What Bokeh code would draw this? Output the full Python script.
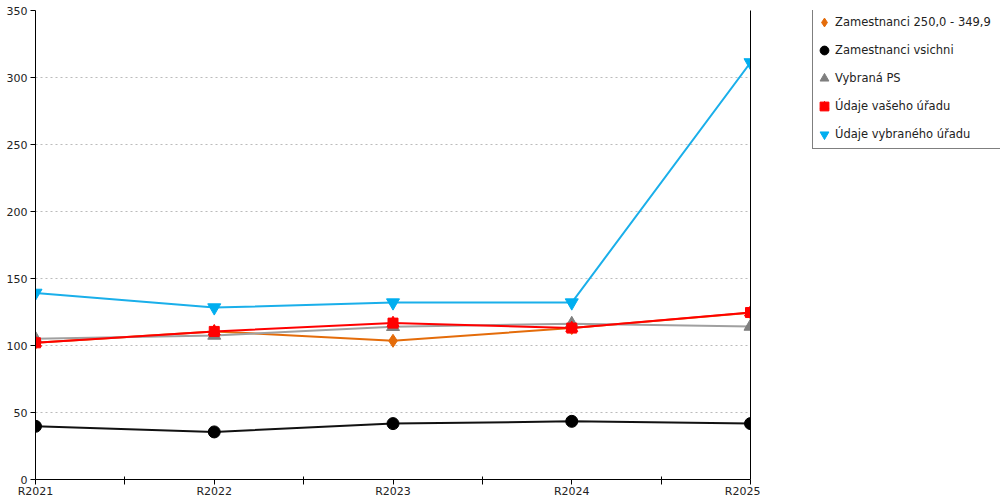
from bokeh.plotting import figure
from bokeh.layouts import row
from bokeh.models import (Range1d, FixedTicker, Legend, LegendItem, ColumnDataSource, LinearAxis)
from bokeh.embed import file_html
from bokeh.resources import INLINE

categories = ["R2021", "R2022", "R2023", "R2024", "R2025"]
y_ticks = [0, 50, 100, 150, 200, 250, 300, 350]

zam_250 = [102, 110.5, 103.5, 113, 124.5]
zam_vsichni = [39.7, 35.5, 41.7, 43.4, 41.7]
vybrana_ps = [105, 107.5, 114, 116.2, 114.2]
vas_urad = [102, 110.5, 116.7, 113, 124.6]
vybrany_urad = [139.2, 128.3, 132, 132, 311.2]

names = ["Zamestnanci 250,0 - 349,9", "Zamestnanci vsichni", "Vybraná PS",
         "Údaje vašeho úřadu", "Údaje vybraného úřadu"]

FONT = "DejaVu Sans"
xs = list(range(len(categories)))

p = figure(width=760, height=500, output_backend="svg", toolbar_location=None,
           x_range=Range1d(0, len(categories) - 1), y_range=Range1d(0, 350),
           min_border_left=35, min_border_right=10, min_border_top=10, min_border_bottom=19)
p.outline_line_color = None
p.background_fill_color = "white"

# axes
p.xaxis.ticker = FixedTicker(ticks=xs, minor_ticks=[i + 0.5 for i in xs[:-1]])
p.xaxis.major_label_overrides = {i: c for i, c in enumerate(categories)}
p.xaxis.major_tick_in = 0
p.xaxis.major_tick_out = 5
p.xaxis.minor_tick_in = 3
p.xaxis.minor_tick_out = 5
p.xaxis.major_label_standoff = 0
p.yaxis.ticker = FixedTicker(ticks=y_ticks)
p.yaxis.major_tick_in = 0
p.yaxis.major_tick_out = 5
p.yaxis.major_label_standoff = 3
for ax in (p.xaxis[0], p.yaxis[0]):
    ax.axis_line_color = "black"
    ax.major_tick_line_color = "black"
    ax.minor_tick_line_color = "black" if ax is p.xaxis[0] else None
    ax.major_label_text_font = FONT
    ax.major_label_text_font_size = "11px"
    ax.major_label_text_color = "#222222"

p.xgrid.grid_line_color = None
p.ygrid.grid_line_color = "#BBBBBB"
p.ygrid.grid_line_dash = "2 3"

# right border line
raxis = LinearAxis(ticker=FixedTicker(ticks=[]), axis_line_color="black",
                   major_tick_line_color=None, minor_tick_line_color=None,
                   major_tick_in=0, major_tick_out=0, major_label_standoff=0)
p.add_layout(raxis, "right")

src = ColumnDataSource(dict(x=xs, o=zam_250, k=zam_vsichni, g=vybrana_ps,
                            r=vas_urad, b=vybrany_urad))

series = [
    ("o", "#E46C0A", [("diamond", 13, "#E46C0A")]),
    ("k", "#111111", [("circle", 12, "black")]),
    ("g", "#A0A0A0", [("triangle", 13, "#7F7F7F")]),
    ("r", "#FF0000", [("square", 10, "#FF0000"), ("triangle", 12, "#FF0000")]),
    ("b", "#1AAFEA", [("inverted_triangle", 13, "#00AEEF")]),
]

# legend figure (markers drawn out of view; only the legend is visible)
pl = figure(width=240, height=500, output_backend="svg", toolbar_location=None,
            x_range=Range1d(100, 101), y_range=Range1d(0, 350),
            min_border_left=0, min_border_right=0, min_border_top=0, min_border_bottom=0)
pl.axis.visible = False
pl.grid.visible = False
pl.outline_line_color = None

items = []
for (col, lcolor, markers), name in zip(series, names):
    p.line("x", col, source=src, line_color=lcolor, line_width=2)
    rs = []
    for mk, sz, mc in markers:
        p.scatter("x", col, source=src, marker=mk, size=sz, color=mc)
        rs.append(pl.scatter("x", col, source=src, marker=mk, size=sz, color=mc))
    items.append(LegendItem(label=name, renderers=rs))

legend = Legend(items=items, location=(52, 330), orientation="vertical",
                border_line_color="black", border_line_width=1,
                background_fill_color="white", background_fill_alpha=1,
                label_text_font=FONT, label_text_font_size="11.5px",
                label_text_color="#222222",
                glyph_width=22, glyph_height=28, label_height=28, label_width=165,
                label_standoff=0, spacing=0, padding=0, margin=0)
pl.add_layout(legend, "center")

layout = row(p, pl)
open("out.html", "w").write(file_html(layout, INLINE))
